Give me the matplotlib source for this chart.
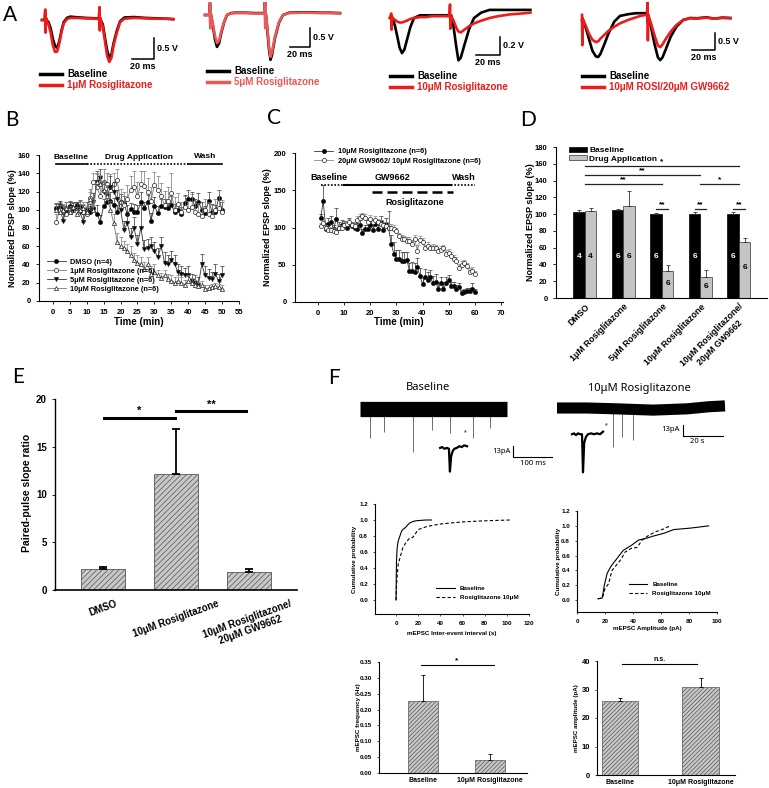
import numpy as np
import matplotlib
matplotlib.use("Agg")
import matplotlib.pyplot as plt
from matplotlib.lines import Line2D
from matplotlib.patches import Patch

plt.rcParams['font.family'] = ['Liberation Sans', 'DejaVu Sans']
plt.rcParams['font.weight'] = 'bold'
plt.rcParams['axes.labelweight'] = 'bold'
plt.rcParams['axes.linewidth'] = 0.8
plt.rcParams['hatch.linewidth'] = 0.5
plt.rcParams['xtick.major.width'] = 0.6
plt.rcParams['ytick.major.width'] = 0.6
plt.rcParams['xtick.major.size'] = 2.5
plt.rcParams['ytick.major.size'] = 2.5

# -------------------------------
# Data
# -------------------------------

# A: paired-pulse fEPSP traces (t in ms, V)
a_t1 = [0, 2.5, 3, 3.3, 3.6, 4, 6, 8, 10, 12, 14, 16, 18, 20, 23, 26, 30, 40, 50, 52.5, 53, 53.3, 53.6,
        54, 56, 58, 60, 62, 64, 66, 69, 72, 76, 85, 95, 105, 115, 121]
a_black1 = [0, 0, 0.2, -0.25, 0.05, 0, -0.05, -0.2, -0.45, -0.62, -0.66, -0.5, -0.25, -0.05, 0.05, 0.08, 0.07,
            0.05, 0.04, 0.03, 0.3, -0.15, 0.05, 0, -0.1, -0.42, -0.72, -0.9, -0.82, -0.55, -0.25, -0.03, 0.06,
            0.07, 0.05, 0.04, 0.03, 0.02]
a_red1 = [0, 0, 0.25, -0.3, 0.05, 0, -0.1, -0.3, -0.6, -0.76, -0.75, -0.55, -0.28, -0.08, 0.02, 0.05, 0.05,
          0.04, 0.03, 0.02, 0.3, -0.25, 0.05, 0, -0.15, -0.5, -0.85, -1.0, -0.9, -0.6, -0.3, -0.05, 0.03,
          0.05, 0.04, 0.03, 0.03, 0.02]

a_t2 = [0, 4.5, 5, 5.3, 5.6, 6, 8, 10, 12, 14, 16, 19, 22, 26, 30, 40, 50, 59.5, 60, 60.3, 60.6, 61,
        62, 64, 65.5, 67, 70, 74, 78, 84, 95, 105, 115, 125, 135]
a_black2 = [0, 0, 0.3, -0.3, 0.05, 0, -0.3, -0.65, -0.84, -0.75, -0.5, -0.2, 0, 0.05, 0.06, 0.06, 0.05, 0.05,
            0.35, -0.3, 0.05, 0, -0.3, -0.9, -1.18, -1.05, -0.6, -0.2, 0, 0.06, 0.07, 0.07, 0.06, 0.06, 0.05]
a_red2 = [0, 0, 0.4, -0.35, 0.05, 0, -0.25, -0.55, -0.74, -0.68, -0.45, -0.18, 0, 0.04, 0.05, 0.05, 0.04,
          0.04, 0.4, -0.35, 0.05, 0, -0.25, -0.82, -1.1, -0.98, -0.56, -0.18, 0, 0.05, 0.06, 0.06, 0.05,
          0.05, 0.04]

a_t3 = [0, 1, 1.3, 1.6, 2, 4, 6, 8, 10, 12, 14, 17, 20, 25, 30, 35, 40, 45, 49.5, 50, 50.3, 50.6, 51,
        53, 55, 57, 59, 62, 66, 70, 76, 83, 90, 100, 110, 117]
a_black3 = [0, 0, 0, 0, 0, -0.08, -0.2, -0.33, -0.39, -0.35, -0.25, -0.1, 0, 0.03, 0.03, 0.03, 0.03, 0.03,
            0.03, 0.03, 0.03, 0.03, 0.03, -0.1, -0.3, -0.47, -0.44, -0.3, -0.12, 0, 0.06, 0.09, 0.09, 0.09,
            0.09, 0.09]
a_red3 = [0, 0.05, -0.13, 0.02, 0, -0.02, -0.04, -0.05, -0.05, -0.04, -0.03, -0.01, 0, 0.01, 0.01, 0.02,
          0.02, 0.02, 0.02, 0.15, -0.12, 0.02, 0.02, -0.03, -0.1, -0.15, -0.16, -0.13, -0.09, -0.06, -0.03,
          0, 0.02, 0.04, 0.05, 0.06]

a_t4 = [0, 0.3, 0.6, 1, 3, 6, 9, 12, 14, 16, 19, 23, 28, 33, 40, 47, 52, 56.5, 57, 57.3, 57.6, 58,
        60, 63, 66, 68, 70, 73, 77, 82, 88, 94, 100, 108, 115, 122, 129]
a_black4 = [0, 0, 0, 0, -0.2, -0.55, -0.9, -1.07, -1.09, -1.0, -0.75, -0.4, -0.05, 0.12, 0.17, 0.2, 0.2, 0.2,
            0.3, -0.1, 0.15, 0.1, -0.2, -0.7, -1.1, -1.18, -1.1, -0.85, -0.5, -0.2, 0, 0.06, 0.05, 0.08,
            0.04, 0.07, 0.06]
a_red4 = [0.15, -0.74, 0.05, 0, -0.15, -0.4, -0.58, -0.65, -0.63, -0.55, -0.45, -0.32, -0.2, -0.1, 0, 0.08,
          0.13, 0.15, 0.6, -0.6, 0.15, 0.1, -0.1, -0.45, -0.75, -0.8, -0.72, -0.55, -0.35, -0.15, 0, 0.05,
          0.04, 0.07, 0.04, 0.06, 0.05]

a_drug_labels = ['1μM Rosiglitazone', '5μM Rosiglitazone', '10μM Rosiglitazone', '10μM ROSI/20μM GW9662']
a_scale_v = [0.5, 0.5, 0.2, 0.5]

# B: time course, 4 groups
time_b = list(range(1, 51))
b_labels = ['DMSO (n=4)', '1μM Rosiglitazone (n=6)', '5μM Rosiglitazone (n=6)', '10μM Rosiglitazone (n=6)']
b_dmso = [102, 103, 101, 99, 104, 102, 105, 103, 100, 99, 98, 102, 95, 87, 104, 108, 110, 105, 97, 108,
          107, 95, 101, 98, 97, 109, 102, 108, 88, 104, 96, 104, 103, 102, 105, 98, 100, 95, 107, 112,
          112, 104, 109, 100, 96, 110, 98, 97, 113, 100]
b_dmso_err = [5, 4, 4, 5, 6, 5, 4, 8, 5, 4, 6, 8, 10, 7, 8, 10, 9, 8, 8, 9, 8, 10, 6, 8, 8, 10, 7, 8, 8, 10,
              8, 8, 9, 7, 10, 8, 7, 8, 9, 10, 8, 8, 9, 8, 8, 10, 8, 8, 9, 8]
b_r1 = [87, 100, 98, 95, 97, 100, 102, 100, 98, 95, 113, 130, 125, 115, 130, 128, 125, 128, 133, 108,
        105, 112, 122, 125, 115, 128, 126, 120, 110, 127, 122, 115, 105, 110, 118, 100, 106, 98, 103, 100,
        103, 98, 95, 93, 100, 95, 93, 100, 102, 97]
b_r1_err = [8, 8, 6, 8, 6, 8, 6, 10, 8, 8, 10, 10, 14, 12, 15, 12, 14, 12, 12, 15, 14, 15, 15, 18, 15,
            14, 16, 15, 15, 14, 15, 14, 16, 15, 22, 14, 12, 10, 12, 10, 14, 12, 12, 10, 12, 14, 12, 12, 20, 14]
b_r5 = [100, 104, 88, 100, 103, 100, 102, 97, 87, 100, 98, 108, 130, 135, 120, 115, 125, 120, 112, 100,
        78, 85, 70, 80, 62, 80, 57, 58, 60, 55, 48, 60, 42, 40, 45, 40, 32, 30, 28, 28,
        22, 20, 18, 40, 28, 25, 24, 30, 22, 28]
b_r5_err = [6, 6, 8, 8, 6, 8, 6, 8, 8, 8, 8, 10, 12, 10, 10, 10, 12, 10, 10, 10, 10, 10, 10, 12, 10,
            25, 10, 10, 10, 10, 10, 10, 12, 10, 10, 10, 8, 8, 8, 10, 8, 8, 8, 12, 10, 10, 8, 10, 8, 10]
b_r10 = [100, 97, 100, 102, 98, 103, 95, 100, 102, 98, 112, 100, 130, 128, 122, 115, 100, 85, 65, 60,
         58, 55, 50, 45, 42, 40, 35, 40, 30, 32, 28, 25, 28, 24, 22, 20, 22, 20, 18, 22,
         20, 18, 16, 17, 13, 14, 15, 16, 15, 13]
b_r10_err = [6, 8, 6, 6, 6, 6, 8, 6, 6, 6, 8, 10, 10, 10, 10, 12, 10, 10, 10, 10, 8, 8, 10, 8, 8,
             8, 8, 8, 8, 8, 6, 6, 6, 6, 6, 6, 6, 6, 5, 6, 5, 5, 5, 5, 4, 4, 4, 4, 4, 4]

# C: GW9662 pre-treatment time course
time_c = list(range(1, 61))
c_labels = ['10μM Rosiglitazone (n=6)', '20μM GW9662/ 10μM Rosiglitazone (n=6)']
c_rosi = [113, 135, 98, 105, 107, 98, 112, 100, 104, 103, 100, 105, 102, 100, 98, 104, 92, 98, 98, 104,
          97, 105, 98, 108, 96, 105, 100, 78, 65, 58, 58, 55, 55, 57, 42, 42, 40, 47, 35, 24,
          34, 30, 33, 25, 27, 18, 26, 17, 26, 30, 22, 22, 18, 20, 12, 14, 15, 15, 17, 13]
c_rosi_err = [5, 22, 8, 8, 8, 6, 14, 8, 6, 6, 6, 8, 6, 6, 8, 6, 6, 6, 6, 6, 6, 6, 6, 8, 6, 8, 22, 12, 15, 12,
              12, 12, 12, 10, 10, 12, 12, 12, 10, 8, 10, 10, 10, 10, 10, 8, 8, 10, 8, 6, 5, 5, 5, 6, 4,
              4, 4, 4, 8, 4]
c_gw = [102, 106, 100, 96, 97, 95, 94, 100, 99, 103, 105, 107, 104, 102, 110, 113, 115, 113, 108, 112,
        107, 110, 107, 105, 103, 102, 100, 100, 98, 95, 88, 85, 84, 82, 82, 78, 85, 68, 83, 80,
        72, 75, 72, 73, 72, 68, 70, 72, 65, 66, 62, 58, 55, 45, 50, 52, 48, 40, 42, 37]
c_gw_err = [4, 4, 4, 4, 4, 4, 4, 4, 4, 4, 4, 4, 4, 5, 5, 5, 5, 5, 5, 5, 5, 5, 5, 5, 5, 5, 5, 5, 5, 5,
            5, 5, 5, 5, 5, 5, 5, 8, 6, 6, 5, 5, 5, 5, 5, 5, 5, 5, 5, 5, 5, 5, 5, 6, 5, 5, 5, 5, 5, 5]

# D: summary bars
d_groups = ['DMSO', '1μM Rosiglitazone', '5μM Rosiglitazone', '10μM Rosiglitazone',
            '10μM Rosiglitazone/\n20μM GW9662']
d_base = [103, 105, 100, 100, 100]
d_base_err = [1.5, 1.5, 1, 2, 2]
d_drug = [104, 110, 32, 25, 67]
d_drug_err = [3, 17, 7, 8, 4]
d_n_base = [4, 6, 6, 6, 6]
d_n_drug = [4, 6, 6, 6, 6]

# E: paired-pulse ratio
e_groups = ['DMSO', '10μM Rosiglitazone', '10μM Rosiglitazone/\n20μM GW9662']
e_vals = [2.15, 12.1, 1.88]
e_err = [0.3, 4.8, 0.3]

# F: mEPSC traces (s, pA)
fl_spike_t = [4.1, 9.8, 21.6, 29.4, 36.7, 46.1, 53.1]
fl_spike_amp = [34, 27, 51, 25, 28, 34, 22]
fl_inset_t = [32.7, 33.5, 34.5, 35.5, 36.3, 36.7, 37.2, 37.8, 38.5, 39.5, 40.5, 41.5, 42.5, 43.7]
fl_inset_y = [-46, -45, -47, -46, -47, -74, -56, -50, -47, -46, -44, -45, -43, -44]
fr_band_t = [0, 15, 30, 48, 65, 76, 84]
fr_band_y = [0, 0, -1, -2.5, -1, 1.5, 2.5]
fr_spike_t = [28, 32.5, 38]
fr_spike_amp = [46, 34, 38]
fr_inset_t = [7.5, 8.5, 9.5, 10.5, 11.5, 12.5, 13, 13.6, 14.5, 15.5, 17, 18.5, 20, 21.5, 23]
fr_inset_y = [-31, -30, -32, -30, -31, -31, -76, -41, -34, -31, -30, -31, -30, -31, -28]

# F: cumulative distributions
iei_base_x = [0, 0.2, 0.4, 0.7, 1, 1.5, 2, 3, 4, 5, 6, 8, 10, 12, 15, 18, 22, 27, 32]
iei_base_y = [0, 0.3, 0.48, 0.58, 0.65, 0.7, 0.74, 0.78, 0.82, 0.86, 0.88, 0.9, 0.93, 0.96, 0.98, 0.99,
              0.995, 1.0, 1.0]
iei_rosi_x = [0, 0.5, 1, 2, 4, 6, 9, 12, 15, 20, 28, 40, 55, 65, 80, 103]
iei_rosi_y = [0, 0.2, 0.3, 0.45, 0.55, 0.65, 0.72, 0.77, 0.78, 0.88, 0.92, 0.95, 0.97, 0.98, 0.99, 1.0]
amp_base_x = [15, 18, 19.5, 21.5, 24, 28.5, 33, 39, 44, 49, 54, 62, 69, 81, 94]
amp_base_y = [0.02, 0.03, 0.2, 0.36, 0.45, 0.56, 0.67, 0.74, 0.81, 0.83, 0.86, 0.9, 0.95, 0.97, 1.0]
amp_rosi_x = [15, 18, 19, 20, 22.5, 25, 31, 34.5, 39, 43, 46.5, 51, 56, 62, 66.5]
amp_rosi_y = [0.02, 0.03, 0.08, 0.16, 0.22, 0.4, 0.54, 0.65, 0.7, 0.71, 0.81, 0.87, 0.92, 0.96, 1.0]

# F: mEPSC summary bars
f_groups = ['Baseline', '10μM Rosiglitazone']
f_freq = [0.228, 0.04]
f_freq_err = [0.08, 0.019]
f_amp = [26.0, 30.8]
f_amp_err = [0.9, 3.4]

# -------------------------------
# Figure
# -------------------------------

W, H = 769, 788
fig = plt.figure(figsize=(W / 100, H / 100), dpi=100)
RED = '#ee1b1b'
RED_LIGHT = '#ea5858'


def box(l, t, r, b):
    return [l / W, 1 - b / H, (r - l) / W, (b - t) / H]


def fit_limits(ax, rect, x0, y0, sx, sy):
    l, t, r, b = rect
    ax.set_xlim((l - x0) / sx, (r - x0) / sx)
    ax.set_ylim((y0 - b) / sy, (y0 - t) / sy)


def clean(ax):
    for s in ['top', 'right']:
        ax.spines[s].set_visible(False)


def letter(x, y, s):
    fig.text(x / W, 1 - y / H, s, fontsize=15, family='Lato', weight='normal', va='center', ha='left')


def fig_legend(ax, handles, x, y, size, colors=None, **kw):
    opts = dict(loc='upper left', bbox_to_anchor=(x / W, 1 - y / H), bbox_transform=fig.transFigure,
                frameon=False, borderpad=0, borderaxespad=0, prop={'weight': 'bold', 'size': size})
    opts.update(kw)
    if colors is not None:
        opts['labelcolor'] = colors
    return ax.legend(handles=handles, **opts)


# ---- Panel A
letter(3, 15, 'A')
a_traces = [(a_t1, a_black1, a_red1), (a_t2, a_black2, a_red2), (a_t3, a_black3, a_red3),
            (a_t4, a_black4, a_red4)]
a_layout = [
    dict(rect=(36, 2, 180, 72), x0=42, y0=20, sx=1.085, sy=42, sb=(103, -0.93), leg=(40, 69)),
    dict(rect=(200, 2, 345, 72), x0=205, y0=15, sx=1.0, sy=38, sb=(105, -0.84), leg=(207, 66)),
    dict(rect=(386, 2, 535, 72), x0=390, y0=18, sx=1.2, sy=90, sb=(91.7, -0.41), leg=(390, 71)),
    dict(rect=(576, 2, 735, 72), x0=582, y0=20, sx=1.15, sy=34, sb=(115.7, -0.88), leg=(582, 71)),
]
for i, ((t, blk, red), lay) in enumerate(zip(a_traces, a_layout)):
    ax = fig.add_axes(box(*lay['rect']))
    ax.axis('off')
    fit_limits(ax, lay['rect'], lay['x0'], lay['y0'], lay['sx'], lay['sy'])
    rc = RED_LIGHT if i == 1 else RED
    ax.plot(t, blk, color='black', lw=1.9, solid_joinstyle='round')
    ax.plot(t, red, color=rc, lw=1.9, solid_joinstyle='round')
    sbx, sby = lay['sb']
    sv = a_scale_v[i]
    ax.plot([sbx - 20, sbx, sbx], [sby, sby, sby + sv], color='black', lw=1.1, clip_on=False)
    ax.text(sbx + 3 / lay['sx'], sby + sv / 2, f'{sv} V', fontsize=6.5, va='center', ha='left')
    ax.text(sbx - 10, sby - 3 / lay['sy'], '20 ms', fontsize=6.5, va='top', ha='center')
    hl = [Line2D([], [], color='black', lw=2.5), Line2D([], [], color=rc, lw=2.5)]
    lg = fig_legend(ax, hl, lay['leg'][0], lay['leg'][1], 7, colors=['black', rc],
                    handlelength=2.3, handletextpad=0.5, labelspacing=0.15)
    for txt, lab in zip(lg.get_texts(), ['Baseline', a_drug_labels[i]]):
        txt.set_text(lab)

# ---- Panel B
letter(5, 120, 'B')
axB = fig.add_axes(box(39, 155, 239, 301))
clean(axB)
b_series = [(b_dmso, b_dmso_err, 'o', 'black', '#333333'), (b_r1, b_r1_err, 'o', 'white', '#777777'),
            (b_r5, b_r5_err, 'v', 'black', '#333333'), (b_r10, b_r10_err, '^', 'white', '#777777')]
for (vals, errs, m, fc, lc), lab in zip(b_series, b_labels):
    axB.errorbar(time_b, vals, yerr=[np.zeros(len(errs)), errs], fmt='none', ecolor=lc,
                 elinewidth=0.5, capsize=1.3, capthick=0.5)
    axB.plot(time_b, vals, color=lc, lw=0.6, marker=m, ms=3, mfc=fc, mec='#222222', mew=0.5, label=lab)
axB.set_xlim(-4.1, 55)
axB.set_ylim(0, 160)
axB.set_xticks(range(0, 56, 5))
axB.set_yticks(range(0, 161, 20))
axB.tick_params(labelsize=5.5)
axB.set_xlabel('Time (min)', fontsize=7)
axB.set_ylabel('Normalized EPSP slope (%)', fontsize=6.5)
axB.xaxis.set_label_coords(0.5, -0.11)
axB.yaxis.set_label_coords(-0.11, 0.5)
axB.plot([1, 10], [150, 150], color='black', lw=1.2, clip_on=False)
axB.plot([10, 40], [150, 150], color='black', lw=1.2, ls=(0, (1, 1)), clip_on=False)
axB.plot([40, 50], [150, 150], color='black', lw=1.2, clip_on=False)
axB.text(5.5, 157, 'Baseline', fontsize=6, ha='center', va='center')
axB.text(25.5, 157, 'Drug Application', fontsize=6, ha='center', va='center')
axB.text(45, 158, 'Wash', fontsize=6, ha='center', va='center')
axB.legend(loc='lower left', bbox_to_anchor=(0.02, 0.03), frameon=False, fontsize=5.3,
           handlelength=2.6, labelspacing=0.25, borderpad=0, handletextpad=0.6)

# ---- Panel C
letter(267, 118, 'C')
axC = fig.add_axes(box(295, 153, 503, 302))
clean(axC)
c_series = [(c_rosi, c_rosi_err, 'black', '#333333'), (c_gw, c_gw_err, 'white', '#888888')]
for (vals, errs, fc, lc), lab in zip(c_series, c_labels):
    axC.errorbar(time_c, vals, yerr=[np.zeros(len(errs)), errs], fmt='none', ecolor=lc,
                 elinewidth=0.5, capsize=1.3, capthick=0.5)
    axC.plot(time_c, vals, color=lc, lw=0.6, marker='o', ms=3, mfc=fc, mec='#222222', mew=0.5, label=lab)
axC.set_xlim(-8.8, 70.8)
axC.set_ylim(0, 200)
axC.set_xticks(range(0, 71, 10))
axC.set_yticks(range(0, 201, 50))
axC.tick_params(labelsize=5.5)
axC.set_xlabel('Time (min)', fontsize=7)
axC.set_ylabel('Normalized EPSP slope (%)', fontsize=6.5)
axC.xaxis.set_label_coords(0.5, -0.10)
axC.yaxis.set_label_coords(-0.11, 0.5)
axC.plot([1, 10], [157, 157], color='black', lw=1.2, ls=(0, (1, 1)))
axC.plot([10, 51], [157, 157], color='black', lw=1.5)
axC.plot([51, 60], [157, 157], color='black', lw=1.2, ls=(0, (1, 1)))
axC.plot([20.8, 51.5], [147, 147], color='black', lw=1.8, ls=(0, (4, 2)))
axC.text(4, 167, 'Baseline', fontsize=6.5, ha='center', va='center')
axC.text(28.7, 167, 'GW9662', fontsize=6.5, ha='center', va='center')
axC.text(56, 167, 'Wash', fontsize=6.5, ha='center', va='center')
axC.text(37, 133, 'Rosiglitazone', fontsize=6.5, ha='center', va='center')
hC, lC = axC.get_legend_handles_labels()
fig_legend(axC, hC, 314, 148, 5.3, handlelength=2.6, labelspacing=0.3, handletextpad=0.6)

# ---- Panel D
letter(520, 120, 'D')
axD = fig.add_axes(box(556, 147, 767, 298))
clean(axD)
xd = np.arange(len(d_groups))
ekw = dict(elinewidth=0.6, capsize=1.5, capthick=0.6, ecolor='#333333')
axD.bar(xd - 0.15, d_base, 0.3, color='black', edgecolor='black', lw=0.5,
        yerr=[np.zeros(5), d_base_err], error_kw=ekw, label='Baseline')
axD.bar(xd + 0.15, d_drug, 0.3, color='#c4c4c4', edgecolor='#333333', lw=0.5,
        yerr=[np.zeros(5), d_drug_err], error_kw=ekw, label='Drug Application')
for i in range(len(d_groups)):
    axD.text(xd[i] - 0.15, min(49, d_base[i] * 0.5), str(d_n_base[i]), color='white', fontsize=6,
             ha='center', va='center')
    axD.text(xd[i] + 0.15, min(49, d_drug[i] * 0.55), str(d_n_drug[i]), color='black', fontsize=6,
             ha='center', va='center')
d_sig = [(0, 4, 157, '*'), (0, 3, 147, '**'), (0, 2, 136, '**'), (3, 4, 136, '*'),
         (1.85, 2.15, 106, '**'), (2.85, 3.15, 106, '**'), (3.85, 4.15, 106, '**')]
for x1, x2, y, s in d_sig:
    axD.plot([x1, x2], [y, y], color='#222222', lw=0.9)
    axD.text((x1 + x2) / 2, y + 1, s, fontsize=6, ha='center', va='bottom')
axD.set_xlim(-0.75, 4.73)
axD.set_ylim(0, 180)
axD.set_yticks(range(0, 181, 20))
axD.set_xticks(xd)
axD.set_xticklabels(d_groups, rotation=45, ha='right', rotation_mode='anchor', fontsize=6.3,
                    multialignment='center')
axD.tick_params(axis='x', length=0, pad=3)
axD.tick_params(axis='y', labelsize=5.5)
axD.set_ylabel('Normalized EPSP slope (%)', fontsize=6.5)
axD.yaxis.set_label_coords(-0.10, 0.5)
axD.legend(loc='upper left', bbox_to_anchor=(0.04, 1.03), frameon=False, fontsize=6,
           handlelength=2.2, handleheight=0.6, labelspacing=0.1, borderpad=0, handletextpad=0.3)

# ---- Panel E
letter(12, 377, 'E')
axE = fig.add_axes(box(55, 399, 297, 590))
clean(axE)
xe = np.arange(len(e_groups))
axE.bar(xe, e_vals, 0.6, color='#c8c8c8', edgecolor='#555555', lw=0.6, hatch='//////',
        yerr=[np.zeros(3), e_err], error_kw=dict(elinewidth=1.3, capsize=3, capthick=1.3, ecolor='black'))
axE.plot([0.01, 0.99], [18.0, 18.0], color='black', lw=2.2)
axE.plot([1.0, 1.96], [18.7, 18.7], color='black', lw=2.2)
axE.text(0.5, 18.2, '*', fontsize=8, ha='center', va='bottom')
axE.text(1.48, 18.9, '**', fontsize=8, ha='center', va='bottom')
axE.set_xlim(-0.66, 2.66)
axE.set_ylim(0, 20)
axE.set_yticks([0, 5, 10, 15, 20])
axE.set_xticks(xe)
axE.set_xticklabels(e_groups, rotation=20, ha='center', fontsize=7, multialignment='center')
axE.tick_params(axis='x', length=0, pad=6)
axE.tick_params(axis='y', labelsize=7)
axE.spines['left'].set_linewidth(1.0)
axE.spines['bottom'].set_linewidth(1.2)
axE.set_ylabel('Paired-pulse slope ratio', fontsize=7.5)
axE.yaxis.set_label_coords(-0.095, 0.51)

# ---- Panel F: traces
letter(328, 378, 'F')
fig.text(428 / W, 1 - 388 / H, 'Baseline', fontsize=8, family='Noto Sans', weight='normal',
         ha='center', va='center')
fig.text(639 / W, 1 - 388 / H, '10μM Rosiglitazone', fontsize=8, family='Noto Sans', weight='normal',
         ha='center', va='center')

rectL = (355, 395, 560, 478)
axFL = fig.add_axes(box(*rectL))
axFL.axis('off')
fit_limits(axFL, rectL, 360, 409, 2.45, 0.846)
axFL.vlines(fl_spike_t, [-a for a in fl_spike_amp], 0, color='#555555', lw=0.6)
axFL.plot([0, 60], [0, 0], color='black', lw=11, solid_capstyle='butt')
axFL.plot(fl_inset_t, fl_inset_y, color='black', lw=1.6)
axFL.text(42.9, -28, '*', fontsize=5, color='#555555', ha='center', va='center')
axFL.plot([62.4, 62.4, 78.4], [-43.7, -56.7, -56.7], color='black', lw=0.8, clip_on=False)
axFL.text(61.6, -50, '13pA', fontsize=5.5, family='Noto Sans', weight='normal', ha='right', va='center')
axFL.text(70.4, -60, '100 ms', fontsize=5.5, family='Noto Sans', weight='normal', ha='center', va='top')

rectR = (550, 395, 740, 478)
axFR = fig.add_axes(box(*rectR))
axFR.axis('off')
fit_limits(axFR, rectR, 557, 408, 2.0, 0.846)
axFR.vlines(fr_spike_t, [-a for a in fr_spike_amp], 0, color='#555555', lw=0.6)
axFR.plot(fr_band_t, fr_band_y, color='black', lw=8, solid_capstyle='butt')
axFR.plot(fr_inset_t, fr_inset_y, color='black', lw=1.6)
axFR.text(24.5, -21, '*', fontsize=5, color='#555555', ha='center', va='center')
axFR.plot([63, 63, 83], [-20, -33, -33], color='black', lw=0.8, clip_on=False)
axFR.text(61.5, -26, '13pA', fontsize=5.5, family='Noto Sans', weight='normal', ha='right', va='center')
axFR.text(70, -36, '20 s', fontsize=5.5, family='Noto Sans', weight='normal', ha='center', va='top')

# ---- Panel F: cumulative plots
small = 4.5
axF1 = fig.add_axes(box(375, 504, 529, 614))
clean(axF1)
axF1.plot(iei_base_x, iei_base_y, color='black', lw=0.8, label='Baseline')
axF1.plot(iei_rosi_x, iei_rosi_y, color='black', lw=0.8, ls=(0, (3, 2)), label='Rosiglitazone 10μM')
axF1.set_xlim(-19, 120)
axF1.set_ylim(-0.175, 1.2)
axF1.set_xticks(range(0, 121, 20))
axF1.set_yticks([0, 0.2, 0.4, 0.6, 0.8, 1.0, 1.2])
axF1.yaxis.set_major_formatter(matplotlib.ticker.FormatStrFormatter('%.1f'))
axF1.tick_params(labelsize=small, length=1.5, width=0.5)
axF1.set_xlabel('mEPSC Inter-event interval (s)', fontsize=small)
axF1.set_ylabel('Cumulative probability', fontsize=small)
axF1.xaxis.set_label_coords(0.5, -0.15)
axF1.yaxis.set_label_coords(-0.117, 0.5)
axF1.legend(loc='lower right', bbox_to_anchor=(0.95, 0.1), frameon=False, fontsize=small,
            handlelength=3, borderpad=0, labelspacing=0.5)

axF2 = fig.add_axes(box(577, 511, 717, 612))
clean(axF2)
axF2.plot(amp_base_x, amp_base_y, color='black', lw=0.8, label='Baseline')
axF2.plot(amp_rosi_x, amp_rosi_y, color='black', lw=0.8, ls=(0, (3, 2)), label='Rosiglitazone 10μM')
axF2.set_xlim(0, 100)
axF2.set_ylim(-0.158, 1.2)
axF2.set_xticks(range(0, 101, 20))
axF2.set_yticks([0, 0.2, 0.4, 0.6, 0.8, 1.0, 1.2])
axF2.yaxis.set_major_formatter(matplotlib.ticker.FormatStrFormatter('%.1f'))
axF2.tick_params(labelsize=small, length=1.5, width=0.5)
axF2.set_xlabel('mEPSC Amplitude (pA)', fontsize=small)
axF2.set_ylabel('Cumulative probability', fontsize=small)
axF2.xaxis.set_label_coords(0.5, -0.14)
axF2.yaxis.set_label_coords(-0.114, 0.5)
axF2.legend(loc='lower right', bbox_to_anchor=(0.98, 0.13), frameon=False, fontsize=small,
            handlelength=3, borderpad=0, labelspacing=0.5)

# ---- Panel F: summary bars
bar_kw = dict(color='#c8c8c8', edgecolor='#555555', lw=0.5, hatch='////////')
axF3 = fig.add_axes(box(379, 662, 527, 773))
clean(axF3)
axF3.bar([0, 1], f_freq, 0.45, yerr=[[0, 0], f_freq_err],
         error_kw=dict(elinewidth=0.6, capsize=1.5, capthick=0.6), **bar_kw)
axF3.plot([-0.03, 1.05], [0.34, 0.34], color='black', lw=0.8)
axF3.text(0.5, 0.342, '*', fontsize=6, ha='center', va='bottom')
axF3.set_xlim(-0.66, 1.55)
axF3.set_ylim(0, 0.35)
axF3.set_yticks([0, 0.05, 0.1, 0.15, 0.2, 0.25, 0.3, 0.35])
axF3.yaxis.set_major_formatter(matplotlib.ticker.FormatStrFormatter('%.2f'))
axF3.set_xticks([0, 1])
axF3.set_xticklabels(f_groups, fontsize=5)
axF3.tick_params(axis='x', length=0, pad=3)
axF3.tick_params(axis='y', labelsize=small, length=1.5, width=0.5)
axF3.set_ylabel('mEPSC frequency (Hz)', fontsize=small)
axF3.yaxis.set_label_coords(-0.12, 0.5)

axF4 = fig.add_axes(box(597, 661, 735, 775))
clean(axF4)
axF4.bar([0, 1], f_amp, 0.45, yerr=[[0, 0], f_amp_err],
         error_kw=dict(elinewidth=0.6, capsize=1.5, capthick=0.6), **bar_kw)
axF4.plot([0.02, 0.96], [38.9, 38.9], color='black', lw=0.8)
axF4.text(0.49, 39.2, 'n.s.', fontsize=5, ha='center', va='bottom')
axF4.set_xlim(-0.29, 1.43)
axF4.set_ylim(0, 40)
axF4.set_yticks(range(0, 41, 10))
axF4.set_xticks([0, 1])
axF4.set_xticklabels(f_groups, fontsize=5)
axF4.tick_params(axis='x', length=0, pad=3)
axF4.tick_params(axis='y', labelsize=5.5, length=1.5, width=0.5)
axF4.set_ylabel('mEPSC amplitude (pA)', fontsize=small)
axF4.yaxis.set_label_coords(-0.13, 0.5)

fig.savefig('out.png', dpi=100)
